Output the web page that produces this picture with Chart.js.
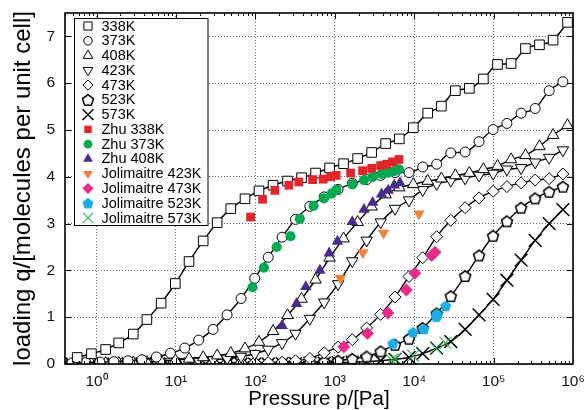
<!DOCTYPE html>
<html>
<head>
<meta charset="utf-8">
<script src="https://cdn.jsdelivr.net/npm/chart.js@4.4.1/dist/chart.umd.min.js"></script>
<style>
  body { margin: 0; background: #fff; }
  #wrap { width: 584px; height: 410px; }
</style>
</head>
<body>
<div id="wrap"><canvas id="isotherms"></canvas></div>
<script>
// pressure grids of the simulations (Pa)
var pressA = [0.57, 0.86, 1.3, 1.9, 2.9, 4.3, 6.5, 9.8, 14.6, 22, 33, 49, 74, 111, 167, 254, 381, 573, 860, 1290, 1940, 2910, 4370, 6490, 9740, 14800, 22000, 33000, 49500, 74300, 112000, 166000, 252000, 378000, 562000, 853000];
var pressB = [0.49, 0.73, 1.1, 1.65, 2.48, 3.73, 5.66, 8.5, 12.9, 19.3, 29.3, 44, 66, 98, 145, 217, 320, 485, 735, 1100, 1660, 2520, 3780, 5730, 8600, 12800, 19200, 28900, 43800, 65600, 98600, 147000, 222000, 334000, 501000, 746000];

// simulated loadings
var q338 = [0.14, 0.22, 0.31, 0.45, 0.64, 0.95, 1.30, 1.72, 2.19, 2.63, 3.02, 3.32, 3.53, 3.70, 3.82, 3.91, 3.98, 4.08, 4.19, 4.28, 4.39, 4.52, 4.71, 4.81, 5.05, 5.36, 5.51, 5.84, 5.89, 6.09, 6.40, 6.42, 6.74, 6.82, 6.92, 7.30];
var q373 = [0.02, 0.03, 0.04, 0.05, 0.07, 0.09, 0.15, 0.23, 0.34, 0.51, 0.74, 1.05, 1.40, 1.83, 2.28, 2.71, 3.09, 3.37, 3.57, 3.73, 3.86, 3.94, 4.03, 4.09, 4.09, 4.21, 4.27, 4.51, 4.53, 4.75, 5.01, 5.14, 5.36, 5.46, 5.84, 6.03];
var q408 = [0.01, 0.01, 0.02, 0.02, 0.03, 0.04, 0.06, 0.08, 0.11, 0.14, 0.18, 0.23, 0.33, 0.47, 0.70, 1.04, 1.39, 1.80, 2.27, 2.68, 3.03, 3.36, 3.62, 3.77, 3.84, 3.91, 3.96, 4.03, 4.08, 4.16, 4.23, 4.37, 4.46, 4.65, 4.89, 5.10];
var q423 = [0.01, 0.01, 0.01, 0.01, 0.02, 0.02, 0.03, 0.04, 0.05, 0.07, 0.09, 0.12, 0.16, 0.22, 0.31, 0.45, 0.65, 0.97, 1.32, 1.71, 2.20, 2.64, 3.03, 3.32, 3.50, 3.72, 3.85, 3.92, 3.97, 4.03, 4.07, 4.16, 4.19, 4.31, 4.41, 4.57];
var q473 = [0.00, 0.00, 0.00, 0.00, 0.00, 0.01, 0.01, 0.01, 0.01, 0.01, 0.02, 0.02, 0.02, 0.03, 0.03, 0.04, 0.07, 0.12, 0.24, 0.36, 0.52, 0.77, 1.06, 1.43, 1.87, 2.27, 2.72, 3.07, 3.34, 3.55, 3.69, 3.79, 3.87, 3.93, 3.96, 4.06];
var q523 = [0.00, 0.00, 0.00, 0.00, 0.00, 0.00, 0.00, 0.00, 0.00, 0.00, 0.01, 0.01, 0.01, 0.01, 0.01, 0.02, 0.02, 0.03, 0.05, 0.07, 0.11, 0.16, 0.27, 0.41, 0.54, 0.77, 1.08, 1.45, 1.88, 2.32, 2.74, 3.05, 3.34, 3.54, 3.68, 3.79];
var q573 = [0.00, 0.00, 0.00, 0.00, 0.00, 0.00, 0.00, 0.00, 0.00, 0.00, 0.00, 0.00, 0.00, 0.00, 0.00, 0.01, 0.01, 0.02, 0.02, 0.03, 0.04, 0.05, 0.07, 0.10, 0.14, 0.22, 0.34, 0.48, 0.74, 1.05, 1.38, 1.79, 2.22, 2.64, 3.00, 3.30];

// experiments
var zhu338P = [87, 123, 176, 264, 352, 525, 714, 885, 1040, 1580, 2240, 2910, 3780, 4500, 5350, 6430];
var zhu338Q = [3.14, 3.52, 3.71, 3.82, 3.89, 3.94, 3.95, 4.00, 4.03, 4.08, 4.13, 4.18, 4.24, 4.27, 4.32, 4.37];
var zhu373P = [92, 128, 185, 277, 363, 540, 729, 912, 1050, 1660, 2330, 3000, 3890, 4710, 5610, 6430];
var zhu373Q = [1.64, 2.06, 2.50, 2.73, 3.10, 3.38, 3.54, 3.64, 3.72, 3.84, 3.93, 4.00, 4.06, 4.09, 4.12, 4.16];
var zhu408P = [217, 330, 432, 649, 850, 1080, 1660, 2330, 3000, 3890, 4710, 5610, 6620];
var zhu408Q = [0.82, 1.29, 1.65, 2.00, 2.37, 2.62, 3.04, 3.30, 3.45, 3.63, 3.71, 3.82, 3.87];
var jol423P = [1180, 2260, 4120, 11500];
var jol423Q = [1.83, 2.38, 2.80, 3.21];
var jol473P = [1300, 2580, 4670, 7950, 10200, 16600, 18300];
var jol473Q = [0.37, 0.65, 1.09, 1.58, 1.94, 2.32, 2.39];
var jol523P = [5360, 9660, 13200, 19000, 19400, 24900];
var jol523Q = [0.44, 0.68, 0.75, 1.01, 1.07, 1.24];
var jol573P = [5200, 5800, 9700, 18800, 24800];
var jol573Q = [0.09, 0.11, 0.18, 0.34, 0.45];

var xTicks = [1, 10, 100, 1000, 10000, 100000, 1000000];
var yTicks = [0, 1, 2, 3, 4, 5, 6, 7];

// the original uses a narrow Helvetica; use Liberation Sans Narrow when it is installed
var probe = document.createElement('canvas').getContext('2d');
probe.font = '20px "Liberation Sans Narrow", monospace';
var wNarrow = probe.measureText('Pressure p/[Pa]').width;
probe.font = '20px monospace';
var hasNarrow = Math.abs(wNarrow - probe.measureText('Pressure p/[Pa]').width) > 0.5;

var FONT = hasNarrow ? "'Liberation Sans Narrow', 'Liberation Sans', Arial, sans-serif"
                     : "'Liberation Sans', Arial, Helvetica, sans-serif";
var SIZE = hasNarrow ? {tick: 16.5, ytitle: 29, xtitle: 24.5, key: 17}
                     : {tick: 15.5, ytitle: 24, xtitle: 20.5, key: 14.5};

function pts(p, q) {
    return p.map(function(v, i){ return {x: v, y: q[i]}; });
}

function pentagon(fill, stroke){
    var c = document.createElement('canvas');
    c.width = 14; c.height = 14;
    var g = c.getContext('2d');
    g.beginPath();
    for(var i = 0; i < 5; i++){
        var a = -Math.PI/2 + i*2*Math.PI/5;
        var px = 7 + 5.8*Math.cos(a), py = 7.6 + 5.8*Math.sin(a);
        if(i) g.lineTo(px, py); else g.moveTo(px, py);
    }
    g.closePath();
    g.fillStyle = fill;
    g.fill();
    if(stroke){ g.strokeStyle = stroke; g.lineWidth = 1.5; g.stroke(); }
    return c;
}

function sim(label, p, q, style, radius, rotation){
    return {
        label: label, data: pts(p, q), showLine: true,
        borderColor: '#000', borderWidth: 1.4, cubicInterpolationMode: 'monotone',
        pointStyle: style, pointRadius: radius, pointRotation: rotation || 0,
        pointBackgroundColor: '#fff', pointBorderColor: '#000',
        pointBorderWidth: style === 'crossRot' ? 1.5 : 1,
        order: 2
    };
}

function exp(label, p, q, style, radius, color, rotation){
    return {
        label: label, data: pts(p, q), showLine: false,
        pointStyle: style, pointRadius: radius, pointRotation: rotation || 0,
        pointBackgroundColor: color, pointBorderColor: color,
        pointBorderWidth: style === 'crossRot' ? 1.1 : 0,
        order: 1
    };
}

var datasets = [
    sim('338K', pressA, q338, 'rect', 6.8),
    sim('373K', pressB, q373, 'circle', 5),
    sim('408K', pressA, q408, 'triangle', 6.6),
    sim('423K', pressB, q423, 'triangle', 6.6, 180),
    sim('473K', pressB, q473, 'rectRot', 6),
    sim('523K', pressB, q523, pentagon('#fff', '#000'), 6),
    sim('573K', pressB, q573, 'crossRot', 9),
    exp('Zhu 338K', zhu338P, zhu338Q, 'rect', 6.2, '#e2262c'),
    exp('Zhu 373K', zhu373P, zhu373Q, 'circle', 5.1, '#00a84f'),
    exp('Zhu 408K', zhu408P, zhu408Q, 'triangle', 6.6, '#4a2b8c'),
    exp('Jolimaitre 423K', jol423P, jol423Q, 'triangle', 6.6, '#f0823a', 180),
    exp('Jolimaitre 473K', jol473P, jol473Q, 'rectRot', 6.5, '#e92a8a'),
    exp('Jolimaitre 523K', jol523P, jol523Q, pentagon('#1aaee9', null), 6, '#1aaee9'),
    exp('Jolimaitre 573K', jol573P, jol573Q, 'crossRot', 8.5, '#2db34a')
];

var sup = {'0':'\u2070','1':'\u00b9','2':'\u00b2','3':'\u00b3','4':'\u2074','5':'\u2075','6':'\u2076','-':'\u207b'};

// frame with inward ticks + gnuplot style key box
var framePlugin = {
    id: 'frame',
    afterDraw: function(chart){
        var ctx = chart.ctx, a = chart.chartArea;
        var xs = chart.scales.x, ys = chart.scales.y;
        ctx.save();
        ctx.strokeStyle = '#000';
        ctx.lineWidth = 1;
        ctx.beginPath();
        for(var d = -1; d < 6; d++){
            for(var m = 1; m < 10; m++){
                var v = m*Math.pow(10, d);
                if(v < xs.min || v > xs.max) continue;
                var px = Math.round(xs.getPixelForValue(v)) + 0.5;
                var len = m === 1 ? 6 : 3;
                ctx.moveTo(px, a.bottom); ctx.lineTo(px, a.bottom - len);
                ctx.moveTo(px, a.top); ctx.lineTo(px, a.top + len);
            }
        }
        yTicks.forEach(function(v){
            var py = Math.round(ys.getPixelForValue(v)) + 0.5;
            ctx.moveTo(a.left, py); ctx.lineTo(a.left + 6, py);
            ctx.moveTo(a.right, py); ctx.lineTo(a.right - 6, py);
        });
        ctx.stroke();
        ctx.lineWidth = 1.6;
        ctx.strokeRect(a.left, a.top, a.right - a.left, a.bottom - a.top);

        // key
        var bx = 74, by = 18.5, bw = 133.5, bh = 207;
        ctx.fillStyle = '#fff';
        ctx.fillRect(bx, by, bw, bh);
        ctx.lineWidth = 1;
        ctx.strokeRect(bx + 0.5, by, bw, bh);
        ctx.font = SIZE.key + 'px ' + FONT;
        ctx.textBaseline = 'middle';
        ctx.textAlign = 'left';
        chart.data.datasets.forEach(function(ds, i){
            var cy = 26 + i*14.77;
            ctx.fillStyle = ds.pointBackgroundColor;
            ctx.strokeStyle = ds.pointBorderColor;
            ctx.lineWidth = ds.pointBorderWidth;
            Chart.helpers.drawPoint(ctx, {
                pointStyle: ds.pointStyle, rotation: ds.pointRotation,
                radius: ds.pointRadius*0.85, borderWidth: ds.pointBorderWidth
            }, 88, cy);
            ctx.fillStyle = '#000';
            ctx.fillText(ds.label, 101.5, cy + 0.5);
        });
        ctx.restore();
    }
};

var ctx = document.getElementById('isotherms').getContext('2d');
var chart = new Chart(ctx, {
    type: 'scatter',
    data: { datasets: datasets },
    plugins: [framePlugin],
    options: {
        responsive: true,
        maintainAspectRatio: false,
        animation: false,
        events: [],
        layout: { padding: { top: 13, right: 11, left: 0, bottom: 0 } },
        plugins: { legend: { display: false }, tooltip: { enabled: false } },
        scales: {
            x: {
                type: 'logarithmic', min: 0.4, max: 1000000,
                afterBuildTicks: function(s){ s.ticks = xTicks.map(function(v){ return {value: v}; }); },
                afterFit: function(s){ s.height = 46; s.paddingLeft = 0; s.paddingRight = 0; },
                grid: { color: '#666', lineWidth: 1, drawTicks: false },
                border: { display: false, dash: [1, 2] },
                ticks: {
                    padding: 8, color: '#111', font: { family: FONT, size: SIZE.tick },
                    maxRotation: 0, autoSkip: false,
                    callback: function(v){
                        var e = String(Math.round(Math.log10(v)));
                        return '10' + e.split('').map(function(c){ return sup[c]; }).join('');
                    }
                },
                title: {
                    display: true, text: 'Pressure p/[Pa]', color: '#000',
                    font: { family: FONT, size: SIZE.xtitle, lineHeight: 1 },
                    padding: { top: 0, bottom: 10.5 - SIZE.xtitle/2 }
                }
            },
            y: {
                min: 0, max: 7.5,
                afterBuildTicks: function(s){ s.ticks = yTicks.map(function(v){ return {value: v}; }); },
                afterFit: function(s){ s.width = 65; s.paddingTop = 0; s.paddingBottom = 0; },
                grid: { color: '#666', lineWidth: 1, drawTicks: false },
                border: { display: false, dash: [1, 2] },
                ticks: { padding: 10, color: '#111', font: { family: FONT, size: SIZE.tick } },
                title: {
                    display: true, text: 'loading q/[molecules per unit cell]', color: '#000',
                    font: { family: FONT, size: SIZE.ytitle, lineHeight: 1 },
                    padding: { top: 23 - SIZE.ytitle/2, bottom: 0 }
                }
            }
        }
    }
});
</script>
</body>
</html>
